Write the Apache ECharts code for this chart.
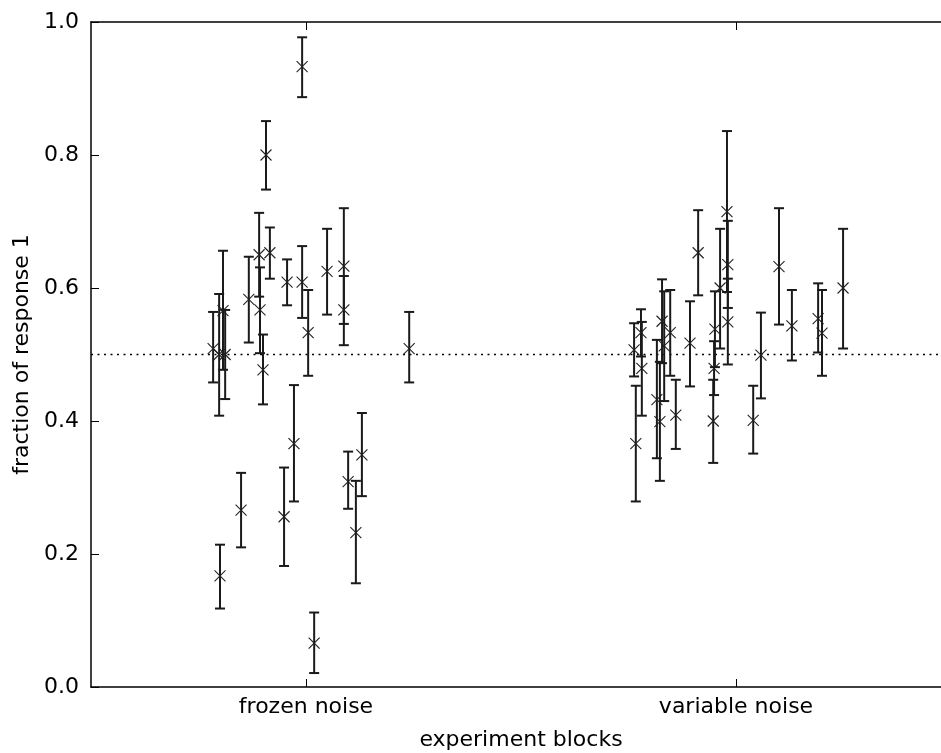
<!DOCTYPE html>
<html>
<head>
<meta charset="utf-8">
<script src="https://cdn.jsdelivr.net/npm/echarts@6/dist/echarts.min.js"></script>
<style>html,body{margin:0;padding:0;background:#fff;}#chart{width:941px;height:753px;}</style>
</head>
<body>
<div id="chart"></div>
<script>
// Category blocks (x ticks at 0 and 1)
const blockLabels = ['frozen noise', 'variable noise'];
const blockTicks = [0, 1];
const yTicks = [0, 0.2, 0.4, 0.6, 0.8, 1.0];
const refLevel = 0.5;

// frozen noise block: jittered x position, mean, lower and upper error bound
const frozenX    = [-0.216,-0.202,-0.193,-0.188,-0.200,-0.151,-0.133,-0.109,-0.107,-0.100,-0.093,-0.084,-0.051,-0.044,-0.028,-0.009,-0.009,0.005,0.019,0.049,0.088,0.088,0.098,0.116,0.130,0.240];
const frozenMean = [0.509,0.500,0.566,0.500,0.167,0.266,0.583,0.650,0.567,0.477,0.800,0.653,0.256,0.609,0.366,0.933,0.609,0.533,0.066,0.625,0.633,0.567,0.309,0.232,0.349,0.509];
const frozenLow  = [0.458,0.408,0.477,0.433,0.118,0.210,0.518,0.587,0.502,0.425,0.748,0.614,0.182,0.574,0.279,0.887,0.555,0.468,0.021,0.560,0.546,0.514,0.268,0.156,0.287,0.458];
const frozenHigh = [0.564,0.591,0.656,0.567,0.214,0.322,0.647,0.713,0.631,0.530,0.851,0.691,0.330,0.643,0.454,0.977,0.663,0.597,0.112,0.689,0.720,0.618,0.354,0.310,0.412,0.564];

// variable noise block
const variableX    = [0.763,0.779,0.781,0.767,0.816,0.823,0.828,0.833,0.847,0.860,0.893,0.912,0.947,0.949,0.951,0.963,0.979,0.981,0.981,1.040,1.058,1.100,1.130,1.191,1.200,1.249];
const variableMean = [0.507,0.533,0.479,0.366,0.432,0.399,0.550,0.513,0.533,0.409,0.517,0.653,0.400,0.479,0.538,0.600,0.715,0.635,0.549,0.401,0.499,0.632,0.543,0.554,0.532,0.600];
const variableLow  = [0.467,0.497,0.408,0.279,0.344,0.310,0.487,0.430,0.468,0.358,0.452,0.589,0.337,0.439,0.481,0.509,0.594,0.570,0.485,0.351,0.434,0.545,0.491,0.503,0.468,0.509];
const variableHigh = [0.547,0.568,0.549,0.453,0.522,0.489,0.613,0.595,0.597,0.462,0.580,0.717,0.462,0.520,0.595,0.689,0.836,0.701,0.614,0.453,0.563,0.720,0.597,0.607,0.597,0.689];

function rows(xs, m, lo, hi) { return xs.map((x, i) => [x, m[i], lo[i], hi[i]]); }
const pointData = rows(frozenX, frozenMean, frozenLow, frozenHigh).concat(rows(variableX, variableMean, variableLow, variableHigh));

const FONT = 'DejaVu Sans';
const chart = echarts.init(document.getElementById('chart'), null, {renderer: 'canvas'});

function renderItem(params, api) {
  const x = api.value(0);
  const pm = api.coord([x, api.value(1)]);
  const pl = api.coord([x, api.value(2)]);
  const ph = api.coord([x, api.value(3)]);
  const cap = 5, s = 5.5;
  const bar = {stroke: '#1a1a1a', lineWidth: 2};
  const mk = {stroke: '#222', lineWidth: 1.1};
  return {type: 'group', children: [
    {type: 'line', shape: {x1: pl[0], y1: pl[1], x2: ph[0], y2: ph[1]}, style: bar},
    {type: 'line', shape: {x1: pl[0]-cap, y1: pl[1], x2: pl[0]+cap, y2: pl[1]}, style: bar},
    {type: 'line', shape: {x1: ph[0]-cap, y1: ph[1], x2: ph[0]+cap, y2: ph[1]}, style: bar},
    {type: 'line', shape: {x1: pm[0]-s, y1: pm[1]-s, x2: pm[0]+s, y2: pm[1]+s}, style: mk},
    {type: 'line', shape: {x1: pm[0]-s, y1: pm[1]+s, x2: pm[0]+s, y2: pm[1]-s}, style: mk}
  ]};
}

const axisLine = {show: true, onZero: false, lineStyle: {color: '#000', width: 1.5}};
const option = {
  backgroundColor: '#fff',
  animation: false,
  grid: {left: 91, top: 22, bottom: 66, right: -10, containLabel: false, outerBoundsMode: 'none'},
  xAxis: [{
    type: 'value', min: -0.5, max: 1.5, position: 'bottom',
    name: 'experiment blocks', nameLocation: 'middle', nameGap: 42,
    nameTextStyle: {fontFamily: FONT, fontSize: 22, color: '#000'},
    axisLine: axisLine,
    axisTick: {show: true, inside: true, length: 8, customValues: blockTicks, lineStyle: {color: '#000', width: 1}},
    axisLabel: {show: true, margin: 9, customValues: blockTicks, fontFamily: FONT, fontSize: 22, color: '#000',
      formatter: v => blockLabels[Math.round(v)]},
    splitLine: {show: false}
  }, {
    type: 'value', min: -0.5, max: 1.5, position: 'top',
    axisLine: axisLine,
    axisTick: {show: true, inside: true, length: 8, customValues: blockTicks, lineStyle: {color: '#000', width: 1}},
    axisLabel: {show: false},
    splitLine: {show: false}
  }],
  yAxis: [{
    type: 'value', min: 0, max: 1, interval: 0.2, position: 'left',
    name: 'fraction of response 1', nameLocation: 'middle', nameGap: 58, nameRotate: 90,
    nameTextStyle: {fontFamily: FONT, fontSize: 22, color: '#000'},
    axisLine: axisLine,
    axisTick: {show: true, inside: true, length: 8, lineStyle: {color: '#000', width: 1}},
    axisLabel: {margin: 12, fontFamily: FONT, fontSize: 22, color: '#000', formatter: v => v.toFixed(1)},
    splitLine: {show: false}
  }],
  series: [{
    type: 'line', xAxisIndex: 0, yAxisIndex: 0, silent: true, symbol: 'none', z: 1,
    data: [[-0.5, refLevel], [1.5, refLevel]],
    lineStyle: {color: '#000', width: 1.5, type: [2, 4.5]}
  }, {
    type: 'custom', xAxisIndex: 0, yAxisIndex: 0, z: 3,
    renderItem: renderItem,
    encode: {x: 0, y: 1},
    data: pointData
  }]
};
chart.setOption(option);
</script>
</body>
</html>
